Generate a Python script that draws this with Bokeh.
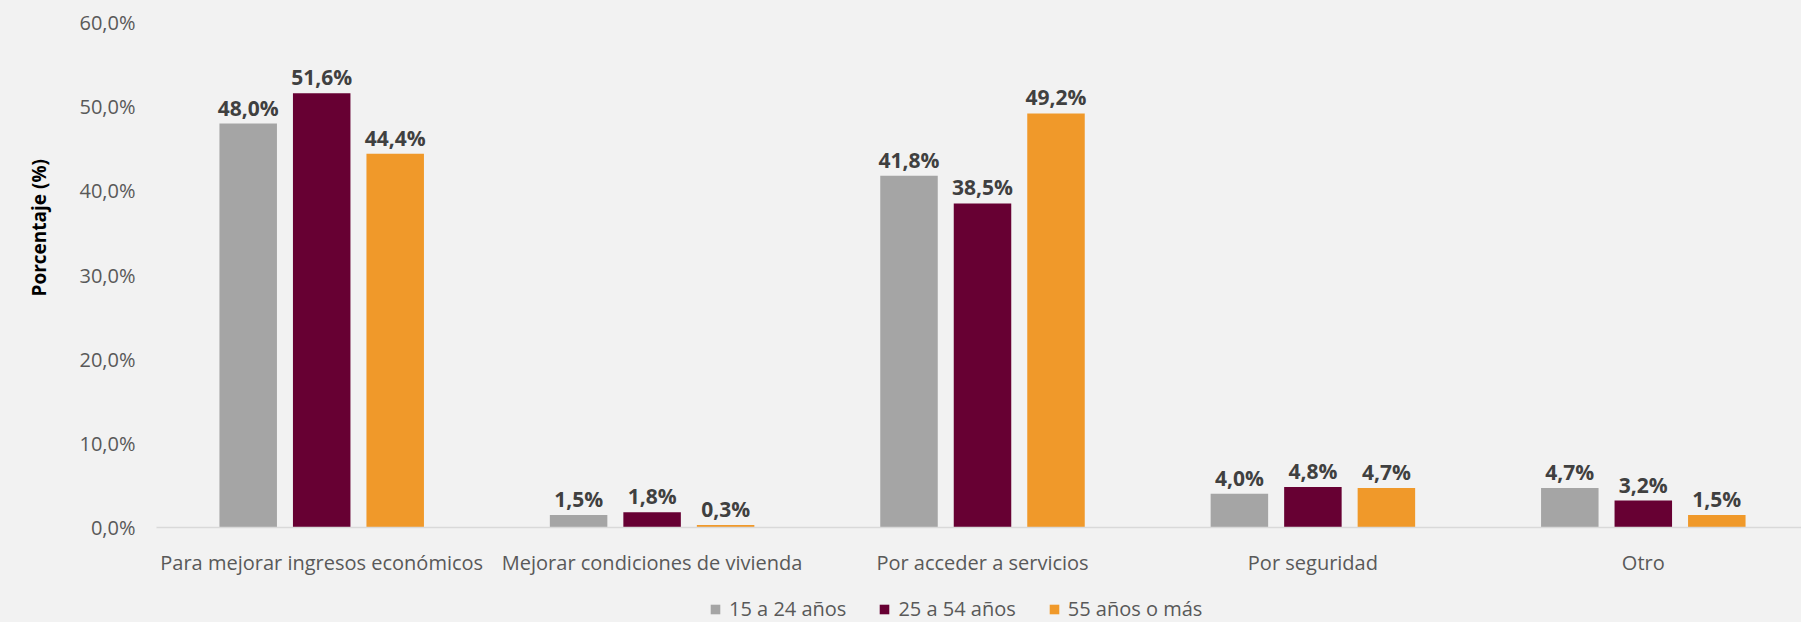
import math
from bokeh.plotting import figure
from bokeh.layouts import column
from bokeh.models import ColumnDataSource, Range1d, FixedTicker, Legend, LegendItem, Title
from bokeh.transform import dodge
from bokeh.core.properties import value
from bokeh.embed import file_html
from bokeh.resources import INLINE

# ---------------- data ----------------
categories = [
    "Para mejorar ingresos económicos",
    "Mejorar condiciones de vivienda",
    "Por acceder a servicios",
    "Por seguridad",
    "Otro",
]
series_names = ["15 a 24 años", "25 a 54 años", "55 años o más"]
v_15_24 = [48.0, 1.5, 41.8, 4.0, 4.7]
v_25_54 = [51.6, 1.8, 38.5, 4.8, 3.2]
v_55_mas = [44.4, 0.3, 49.2, 4.7, 1.5]
y_ticks = [0, 10, 20, 30, 40, 50, 60]
y_tick_labels = ["0,0%", "10,0%", "20,0%", "30,0%", "40,0%", "50,0%", "60,0%"]
y_title = "Porcentaje (%)"

# ---------------- styles ----------------
colors = ["#A5A5A5", "#670033", "#F0992A"]
BG = "#F2F2F2"
FONT = "Open Sans"
W = 1801
H1, H2 = 580, 42
LEFT, TOP = 156, 22
BOTTOM = H1 - 527
UNIT = 330.4  # px per category
frame_w = W - LEFT
x_end = frame_w / UNIT
offsets = [-73.5 / UNIT, 0.0, 73.5 / UNIT]
bar_w = 57.5 / UNIT

xc = [i + 0.5 for i in range(len(categories))]


def fmt(v):
    return f"{v:.1f}%".replace(".", ",")


src = ColumnDataSource(dict(
    x=xc,
    a=v_15_24, b=v_25_54, c=v_55_mas,
    la=[fmt(v) for v in v_15_24],
    lb=[fmt(v) for v in v_25_54],
    lc=[fmt(v) for v in v_55_mas],
))

p = figure(
    width=W, height=H1,
    x_range=Range1d(0, x_end), y_range=Range1d(0, 60),
    output_backend="svg", toolbar_location=None,
    min_border_left=LEFT, min_border_right=0, min_border_top=TOP, min_border_bottom=BOTTOM,
)
p.background_fill_color = BG
p.border_fill_color = BG
p.outline_line_color = None
p.xgrid.visible = False
p.ygrid.visible = False

for col, lab, off, color in zip(["a", "b", "c"], ["la", "lb", "lc"], offsets, colors):
    p.vbar(x=dodge("x", off, range=p.x_range), top=col, width=bar_w, bottom=0,
           source=src, fill_color=color, line_color=None)
    p.text(x=dodge("x", off, range=p.x_range), y=col, text=lab, source=src,
           text_align="center", text_baseline="alphabetic", y_offset=-16,
           text_font=value(FONT), text_font_style="bold", text_font_size="21px",
           text_color="#404040")

# axes
p.xaxis.ticker = FixedTicker(ticks=xc)
p.xaxis.major_label_overrides = {x: c for x, c in zip(xc, categories)}
p.xaxis.major_tick_line_color = None
p.xaxis.minor_tick_line_color = None
p.xaxis.major_tick_out = 0
p.xaxis.axis_line_color = "#D9D9D9"
p.xaxis.axis_line_width = 1.5
p.xaxis.major_label_text_font = FONT
p.xaxis.major_label_text_font_size = "20px"
p.xaxis.major_label_text_color = "#595959"
p.xaxis.major_label_standoff = 21

p.yaxis.ticker = FixedTicker(ticks=y_ticks)
p.yaxis.major_label_overrides = {t: l for t, l in zip(y_ticks, y_tick_labels)}
p.yaxis.major_tick_line_color = None
p.yaxis.minor_tick_line_color = None
p.yaxis.major_tick_out = 0
p.yaxis.axis_line_color = None
p.yaxis.major_label_text_font = FONT
p.yaxis.major_label_text_font_size = "20px"
p.yaxis.major_label_text_color = "#595959"
p.yaxis.major_label_standoff = 21

# y title placed like the reference (above the axis centre)
p.add_layout(Title(text=y_title, align="left", offset=231, vertical_align="middle",
                   standoff=48, text_font=FONT, text_font_style="bold",
                   text_font_size="19px", text_color="#000000"), "left")

# ---------------- legend strip ----------------
lg = figure(
    width=W, height=H2, x_range=Range1d(0, 1), y_range=Range1d(0, 1),
    x_axis_type=None, y_axis_type=None,
    output_backend="svg", toolbar_location=None,
    min_border_left=0, min_border_right=0, min_border_top=0, min_border_bottom=0,
)
lg.background_fill_color = BG
lg.border_fill_color = BG
lg.outline_line_color = None
lg.xgrid.visible = False
lg.ygrid.visible = False
nan = float("nan")
swatches = [lg.vbar(x=[nan], top=[nan], width=0.1, fill_color=c, line_color=None) for c in colors]

legend = Legend(
    items=[LegendItem(label=n, renderers=[r]) for n, r in zip(series_names, swatches)],
    orientation="horizontal", location=(553, 0),
    label_text_font=FONT, label_text_font_size="20px", label_text_color="#595959",
    glyph_width=12, glyph_height=12, label_standoff=8, spacing=32,
    padding=0, margin=0, border_line_alpha=0, background_fill_alpha=0,
)
lg.add_layout(legend)

page = column(p, lg, spacing=0)
page.background = BG

open("out.html", "w").write(file_html(page, INLINE))
